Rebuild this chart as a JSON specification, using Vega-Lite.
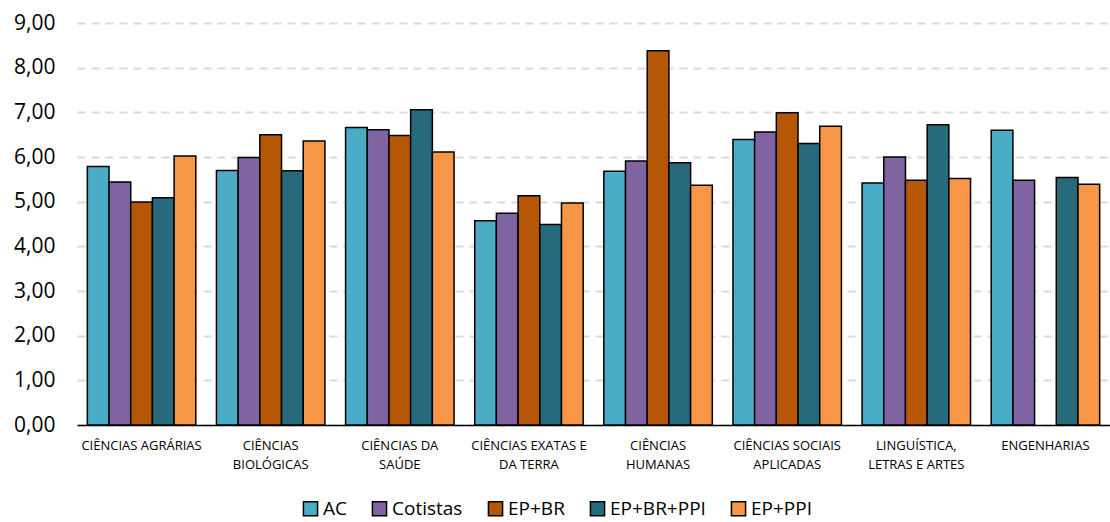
{
  "$schema": "https://vega.github.io/schema/vega-lite/v6.json",
  "width": 1033,
  "height": 402,
  "autosize": {"type": "none"},
  "padding": {"left": 77, "top": 23, "right": 0, "bottom": 97},
  "background": "white",
  "config": {
    "font": "Open Sans",
    "view": {"stroke": null}
  },
  "data": {
    "values": [
      {"area": "CIÊNCIAS AGRÁRIAS", "grupo": "AC", "valor": 5.79},
      {"area": "CIÊNCIAS AGRÁRIAS", "grupo": "Cotistas", "valor": 5.44},
      {"area": "CIÊNCIAS AGRÁRIAS", "grupo": "EP+BR", "valor": 4.99},
      {"area": "CIÊNCIAS AGRÁRIAS", "grupo": "EP+BR+PPI", "valor": 5.09},
      {"area": "CIÊNCIAS AGRÁRIAS", "grupo": "EP+PPI", "valor": 6.02},
      {"area": "CIÊNCIAS BIOLÓGICAS", "grupo": "AC", "valor": 5.70},
      {"area": "CIÊNCIAS BIOLÓGICAS", "grupo": "Cotistas", "valor": 5.99},
      {"area": "CIÊNCIAS BIOLÓGICAS", "grupo": "EP+BR", "valor": 6.50},
      {"area": "CIÊNCIAS BIOLÓGICAS", "grupo": "EP+BR+PPI", "valor": 5.69},
      {"area": "CIÊNCIAS BIOLÓGICAS", "grupo": "EP+PPI", "valor": 6.36},
      {"area": "CIÊNCIAS DA SAÚDE", "grupo": "AC", "valor": 6.66},
      {"area": "CIÊNCIAS DA SAÚDE", "grupo": "Cotistas", "valor": 6.61},
      {"area": "CIÊNCIAS DA SAÚDE", "grupo": "EP+BR", "valor": 6.48},
      {"area": "CIÊNCIAS DA SAÚDE", "grupo": "EP+BR+PPI", "valor": 7.06},
      {"area": "CIÊNCIAS DA SAÚDE", "grupo": "EP+PPI", "valor": 6.11},
      {"area": "CIÊNCIAS EXATAS E DA TERRA", "grupo": "AC", "valor": 4.57},
      {"area": "CIÊNCIAS EXATAS E DA TERRA", "grupo": "Cotistas", "valor": 4.74},
      {"area": "CIÊNCIAS EXATAS E DA TERRA", "grupo": "EP+BR", "valor": 5.13},
      {"area": "CIÊNCIAS EXATAS E DA TERRA", "grupo": "EP+BR+PPI", "valor": 4.49},
      {"area": "CIÊNCIAS EXATAS E DA TERRA", "grupo": "EP+PPI", "valor": 4.97},
      {"area": "CIÊNCIAS HUMANAS", "grupo": "AC", "valor": 5.68},
      {"area": "CIÊNCIAS HUMANAS", "grupo": "Cotistas", "valor": 5.91},
      {"area": "CIÊNCIAS HUMANAS", "grupo": "EP+BR", "valor": 8.38},
      {"area": "CIÊNCIAS HUMANAS", "grupo": "EP+BR+PPI", "valor": 5.87},
      {"area": "CIÊNCIAS HUMANAS", "grupo": "EP+PPI", "valor": 5.37},
      {"area": "CIÊNCIAS SOCIAIS APLICADAS", "grupo": "AC", "valor": 6.39},
      {"area": "CIÊNCIAS SOCIAIS APLICADAS", "grupo": "Cotistas", "valor": 6.56},
      {"area": "CIÊNCIAS SOCIAIS APLICADAS", "grupo": "EP+BR", "valor": 6.99},
      {"area": "CIÊNCIAS SOCIAIS APLICADAS", "grupo": "EP+BR+PPI", "valor": 6.30},
      {"area": "CIÊNCIAS SOCIAIS APLICADAS", "grupo": "EP+PPI", "valor": 6.69},
      {"area": "LINGUÍSTICA, LETRAS E ARTES", "grupo": "AC", "valor": 5.42},
      {"area": "LINGUÍSTICA, LETRAS E ARTES", "grupo": "Cotistas", "valor": 6.00},
      {"area": "LINGUÍSTICA, LETRAS E ARTES", "grupo": "EP+BR", "valor": 5.48},
      {"area": "LINGUÍSTICA, LETRAS E ARTES", "grupo": "EP+BR+PPI", "valor": 6.72},
      {"area": "LINGUÍSTICA, LETRAS E ARTES", "grupo": "EP+PPI", "valor": 5.52},
      {"area": "ENGENHARIAS", "grupo": "AC", "valor": 6.60},
      {"area": "ENGENHARIAS", "grupo": "Cotistas", "valor": 5.48},
      {"area": "ENGENHARIAS", "grupo": "EP+BR+PPI", "valor": 5.54},
      {"area": "ENGENHARIAS", "grupo": "EP+PPI", "valor": 5.39}
    ]
  },
  "mark": {"type": "bar", "stroke": "black", "strokeWidth": 1.5},
  "encoding": {
    "x": {
      "field": "area",
      "type": "nominal",
      "sort": null,
      "scale": {"paddingInner": 0.16, "paddingOuter": 0.08},
      "axis": {
        "title": null,
        "labelAngle": 0,
        "labelFontSize": 13,
        "labelColor": "#000000",
        "labelPadding": 14,
        "labelLineHeight": 19,
        "labelLimit": 200,
        "ticks": false,
        "domainColor": "#000000",
        "domainWidth": 1.5,
        "labelExpr": "({'CIÊNCIAS BIOLÓGICAS': ['CIÊNCIAS', 'BIOLÓGICAS'], 'CIÊNCIAS DA SAÚDE': ['CIÊNCIAS DA', 'SAÚDE'], 'CIÊNCIAS EXATAS E DA TERRA': ['CIÊNCIAS EXATAS E', 'DA TERRA'], 'CIÊNCIAS HUMANAS': ['CIÊNCIAS', 'HUMANAS'], 'CIÊNCIAS SOCIAIS APLICADAS': ['CIÊNCIAS SOCIAIS', 'APLICADAS'], 'LINGUÍSTICA, LETRAS E ARTES': ['LINGUÍSTICA,', 'LETRAS E ARTES']})[datum.label] || datum.label"
      }
    },
    "xOffset": {
      "field": "grupo",
      "type": "nominal",
      "scale": {"domain": ["AC", "Cotistas", "EP+BR", "EP+BR+PPI", "EP+PPI"], "paddingInner": 0, "paddingOuter": 0}
    },
    "y": {
      "field": "valor",
      "type": "quantitative",
      "scale": {"domain": [0, 9], "nice": false},
      "axis": {
        "title": null,
        "values": [0, 1, 2, 3, 4, 5, 6, 7, 8, 9],
        "labelExpr": "replace(format(datum.value, '.2f'), '.', ',')",
        "labelFontSize": 21,
        "labelColor": "#000000",
        "labelPadding": 22,
        "ticks": false,
        "domain": false,
        "grid": true,
        "gridColor": "#d9d9d9",
        "gridWidth": 2,
        "gridDash": [8, 6]
      }
    },
    "color": {
      "field": "grupo",
      "type": "nominal",
      "scale": {
        "domain": ["AC", "Cotistas", "EP+BR", "EP+BR+PPI", "EP+PPI"],
        "range": ["#4bacc6", "#8064a2", "#b65708", "#276a7c", "#f79646"]
      },
      "legend": {
        "title": null,
        "orient": "none",
        "legendX": 224,
        "legendY": 476,
        "direction": "horizontal",
        "symbolType": "square",
        "symbolSize": 200,
        "symbolStrokeColor": "black",
        "symbolStrokeWidth": 1.5,
        "labelFontSize": 19,
        "labelColor": "#000000",
        "columnPadding": 22,
        "labelOffset": 3
      }
    }
  }
}
